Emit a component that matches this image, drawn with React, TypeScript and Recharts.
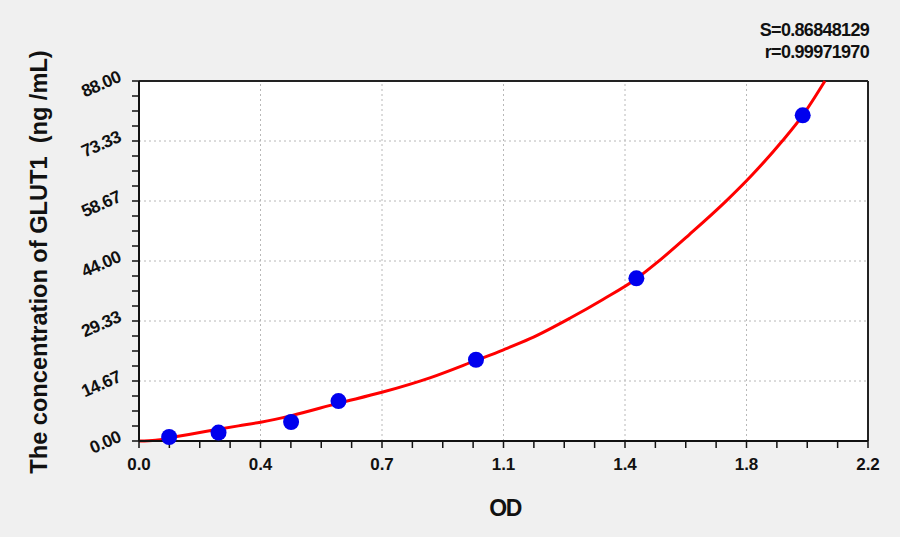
import React from 'react';
import { ComposedChart, Line, Scatter, XAxis, YAxis, CartesianGrid, ReferenceLine } from 'recharts';

// standard points (OD, concentration)
const stdOD = [0.091, 0.24, 0.459, 0.602, 1.017, 1.501, 2.003];
const stdConc = [0.98, 2.05, 4.64, 9.76, 19.86, 39.77, 79.6];

// fitted curve
const curveOD = [0, 0.05, 0.1, 0.2, 0.3, 0.367, 0.46, 0.6, 0.733, 0.88, 1.017, 1.1, 1.18, 1.3, 1.4, 1.5, 1.56, 1.66, 1.77, 1.85, 1.94, 2.003, 2.07];
const curveConc = [0, 0.2, 0.9, 2.3, 3.7, 4.6, 6.2, 9.2, 11.9, 15.5, 19.7, 22.3, 25.0, 30.0, 34.6, 39.6, 43.4, 50.4, 58.5, 65.0, 73.2, 79.6, 88.0];

const xTickLabels = ['0.0', '0.4', '0.7', '1.1', '1.4', '1.8', '2.2'];
const yTickLabels = ['0.00', '14.67', '29.33', '44.00', '58.67', '73.33', '88.00'];

const X_MAX = 2.2;
const Y_MAX = 88;

const points = stdOD.map((x, i) => ({ x, y: stdConc[i] }));
const curve = curveOD.map((x, i) => ({ x, y: curveConc[i] }));

// 4 minor intervals between labelled ticks
const xTicks = Array.from({ length: 25 }, (_, i) => (i * 22) / 240);
const yTicks = Array.from({ length: 25 }, (_, i) => (i * Y_MAX) / 24);
const xMajor = xTicks.filter((_, i) => i % 4 === 0);
const yMajor = yTicks.filter((_, i) => i % 4 === 0);

const font = '"Liberation Sans", Arial, sans-serif';

const XTick = (props: any) => {
  const { x, y, index } = props;
  if (index % 4 !== 0) return <g />;
  return (
    <text x={x} y={y + 20} textAnchor="middle" fontFamily={font} fontWeight="bold" fontSize={17} fill="#111">
      {xTickLabels[index / 4]}
    </text>
  );
};

const YTick = (props: any) => {
  const { x, y, index } = props;
  if (index % 4 !== 0) return <g />;
  const tx = x - 6;
  const ty = y;
  return (
    <text x={tx} y={ty} textAnchor="end" transform={`rotate(-24 ${tx} ${ty})`} fontFamily={font} fontWeight="bold" fontSize={17.5} fill="#111" letterSpacing={-0.6}>
      {yTickLabels[index / 4]}
    </text>
  );
};

const Dot = (props: any) => {
  const { cx, cy } = props;
  return <ellipse cx={cx} cy={cy} rx={8} ry={8} fill="#0000ee" />;
};

export default function App() {
  return (
    <div style={{ position: 'absolute', left: 0, top: 0, width: 900, height: 537, background: '#f0f0f0', fontFamily: font, overflow: 'hidden' }}>
      <ComposedChart width={900} height={537} margin={{ top: 81, right: 32, bottom: 0, left: 0 }}>
        <CartesianGrid fill="#ffffff" fillOpacity={1} horizontal={false} vertical={false} />
        {xMajor.slice(1, -1).map((v) => (
          <ReferenceLine key={'vx' + v} x={v} stroke="#b8b8b8" strokeDasharray="2 3" />
        ))}
        {yMajor.slice(1, -1).map((v) => (
          <ReferenceLine key={'hy' + v} y={v} stroke="#b8b8b8" strokeDasharray="2 3" />
        ))}
        <ReferenceLine y={Y_MAX} stroke="#222" strokeWidth={2} />
        <ReferenceLine x={X_MAX} stroke="#222" strokeWidth={2} />
        <XAxis
          type="number"
          dataKey="x"
          domain={[0, X_MAX]}
          ticks={xTicks}
          interval={0}
          height={96}
          tickSize={7}
          tickMargin={2}
          axisLine={{ stroke: '#111', strokeWidth: 2 }}
          tickLine={{ stroke: '#111', strokeWidth: 1.5 }}
          tick={<XTick />}
        />
        <YAxis
          type="number"
          dataKey="y"
          domain={[0, Y_MAX]}
          ticks={yTicks}
          interval={0}
          width={139}
          tickSize={7}
          tickMargin={4}
          axisLine={{ stroke: '#111', strokeWidth: 2 }}
          tickLine={{ stroke: '#111', strokeWidth: 1.5 }}
          tick={<YTick />}
        />
        <Line data={curve} dataKey="y" type="monotone" stroke="#ff0000" strokeWidth={3} dot={false} isAnimationActive={false} />
        <Scatter data={points} dataKey="y" shape={<Dot />} isAnimationActive={false} />
      </ComposedChart>

      <div style={{ position: 'absolute', right: 31, top: 19, textAlign: 'right', fontWeight: 'bold', fontSize: 18, lineHeight: '22px', letterSpacing: -0.7, color: '#111' }}>
        <div>S=0.86848129</div>
        <div>r=0.99971970</div>
      </div>

      <div style={{ position: 'absolute', left: 505, top: 508, transform: 'translate(-50%, -50%)', fontWeight: 'bold', fontSize: 23, letterSpacing: -1.5, color: '#111' }}>
        OD
      </div>

      <div style={{ position: 'absolute', left: 39, top: 262, transform: 'translate(-50%, -50%) rotate(-90deg)', whiteSpace: 'pre', fontWeight: 'bold', fontSize: 23.6, color: '#111' }}>
        The concentration of GLUT1  (ng /mL)
      </div>
    </div>
  );
}
